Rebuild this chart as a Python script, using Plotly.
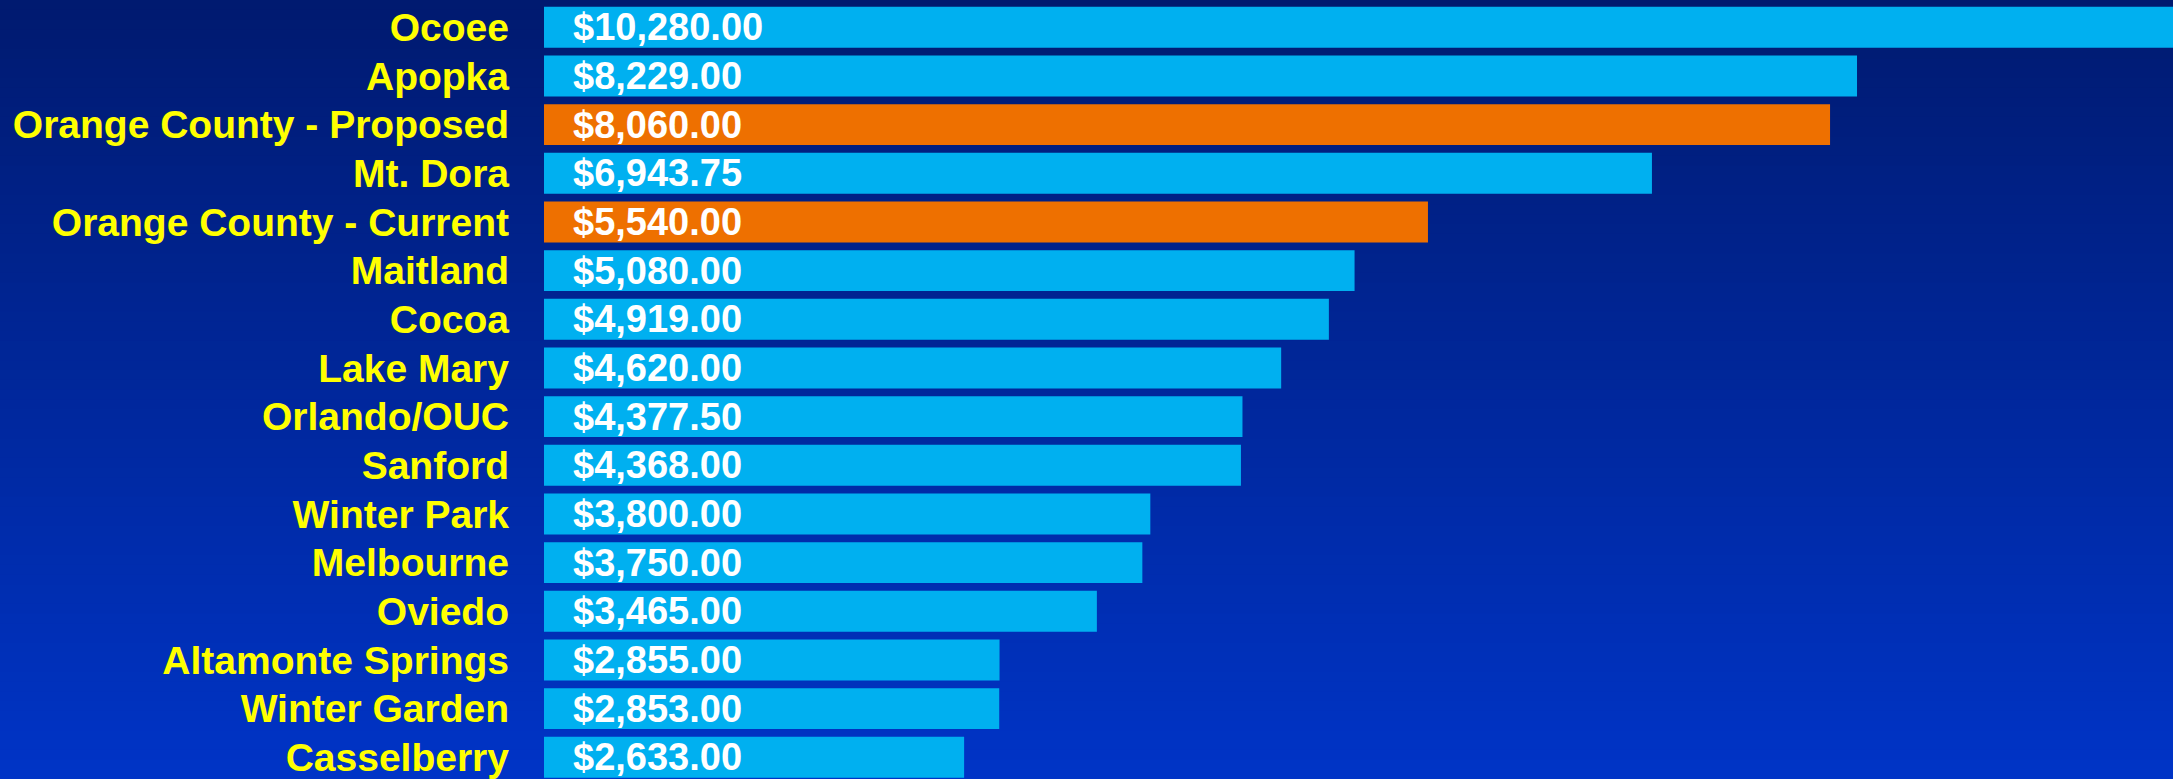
import plotly.graph_objects as go

categories = [
    "Ocoee", "Apopka", "Orange County - Proposed", "Mt. Dora",
    "Orange County - Current", "Maitland", "Cocoa", "Lake Mary",
    "Orlando/OUC", "Sanford", "Winter Park", "Melbourne", "Oviedo",
    "Altamonte Springs", "Winter Garden", "Casselberry",
]
values = [
    10280.00, 8229.00, 8060.00, 6943.75, 5540.00, 5080.00, 4919.00, 4620.00,
    4377.50, 4368.00, 3800.00, 3750.00, 3465.00, 2855.00, 2853.00, 2633.00,
]
highlighted = ["Orange County - Proposed", "Orange County - Current"]

W, H = 2173, 779
LEFT = 544
BLUE = "#00B0F0"
ORANGE = "#EE7000"
FONT = "Liberation Sans, Arial, sans-serif"

colors = [ORANGE if c in highlighted else BLUE for c in categories]
labels = [f"${v:,.2f}" for v in values]

fig = go.Figure()
fig.add_trace(go.Bar(
    x=values, y=categories, orientation="h",
    marker=dict(color=colors, line=dict(width=0)),
    hoverinfo="skip", showlegend=False,
))

# value labels
for c, lab in zip(categories, labels):
    fig.add_annotation(
        x=0, y=c, xref="x", yref="y", text=lab, showarrow=False,
        xanchor="left", yanchor="middle", xshift=27,
        font=dict(family=FONT, size=38, color="white", weight="bold"),
    )

# vertical gradient background
n = 80
top = (0, 26, 112)
bot = (0, 52, 198)
for i in range(n):
    t = i / (n - 1)
    r = round(top[0] + (bot[0] - top[0]) * t)
    g = round(top[1] + (bot[1] - top[1]) * t)
    b = round(top[2] + (bot[2] - top[2]) * t)
    fig.add_shape(
        type="rect", xref="paper", yref="paper",
        x0=-1, x1=1.1, y0=1 - (i + 1) / n - 0.002, y1=1 - i / n,
        fillcolor=f"rgb({r},{g},{b})", line=dict(width=0), layer="below",
    )

plot_w = W - LEFT
fig.update_layout(
    width=W, height=H,
    margin=dict(l=LEFT, r=0, t=0, b=0, pad=0),
    paper_bgcolor="rgb(0,40,158)",
    plot_bgcolor="rgba(0,0,0,0)",
    bargap=0.158,
    xaxis=dict(range=[0, plot_w / 0.15956], visible=False, fixedrange=True),
    yaxis=dict(
        range=[15.446, -0.561], showgrid=False, zeroline=False, showline=False,
        ticks="", ticklabelstandoff=34,
        tickfont=dict(family=FONT, size=39, color="#FFFF00", weight="bold"),
        fixedrange=True,
    ),
)

fig.write_html(
    "out.html",
    config={"displayModeBar": False},
    post_script="document.body.style.margin='0';document.body.style.overflow='hidden';",
)
